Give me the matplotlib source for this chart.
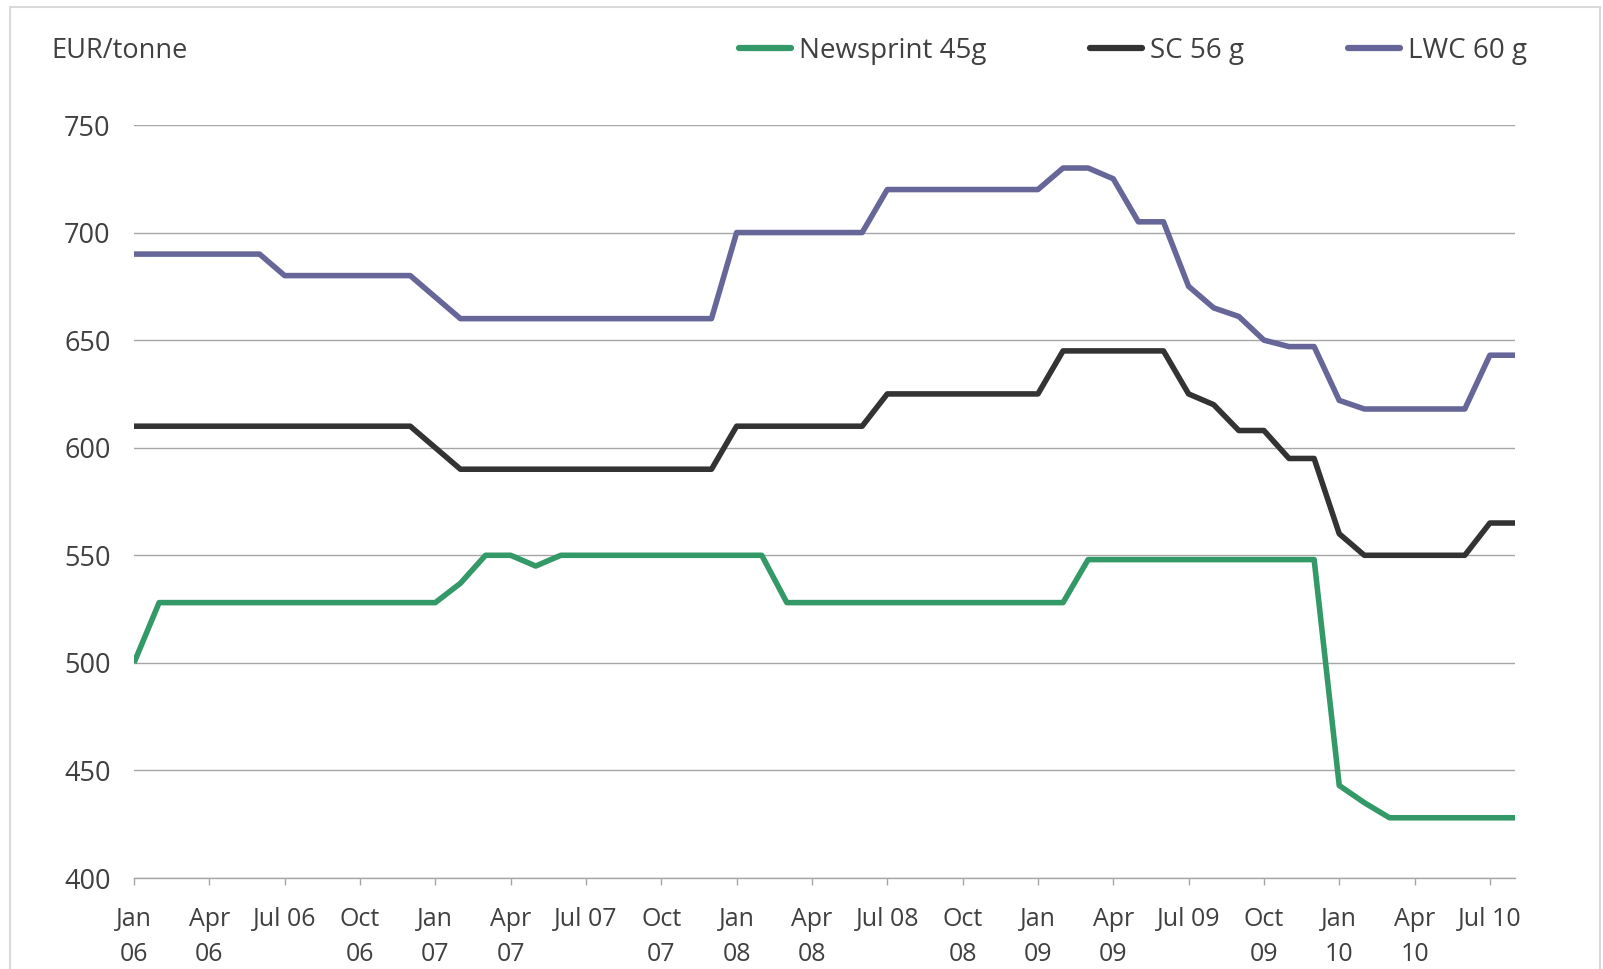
import matplotlib.pyplot as plt
from matplotlib.patches import Rectangle
import numpy as np

# monthly prices, Jan 2006 - Aug 2010 (EUR/tonne)
newsprint_45g = [500, 528, 528, 528, 528, 528, 528, 528, 528, 528, 528, 528,
                 528, 537, 550, 550, 545, 550, 550, 550, 550, 550, 550, 550,
                 550, 550, 528, 528, 528, 528, 528, 528, 528, 528, 528, 528,
                 528, 528, 548, 548, 548, 548, 548, 548, 548, 548, 548, 548,
                 443, 435, 428, 428, 428, 428, 428, 428]
sc_56g = [610, 610, 610, 610, 610, 610, 610, 610, 610, 610, 610, 610,
          600, 590, 590, 590, 590, 590, 590, 590, 590, 590, 590, 590,
          610, 610, 610, 610, 610, 610, 625, 625, 625, 625, 625, 625,
          625, 645, 645, 645, 645, 645, 625, 620, 608, 608, 595, 595,
          560, 550, 550, 550, 550, 550, 565, 565]
lwc_60g = [690, 690, 690, 690, 690, 690, 680, 680, 680, 680, 680, 680,
           670, 660, 660, 660, 660, 660, 660, 660, 660, 660, 660, 660,
           700, 700, 700, 700, 700, 700, 720, 720, 720, 720, 720, 720,
           720, 730, 730, 725, 705, 705, 675, 665, 661, 650, 647, 647,
           622, 618, 618, 618, 618, 618, 643, 643]

tick_labels = ["Jan\n06", "Apr\n06", "Jul 06", "Oct\n06",
               "Jan\n07", "Apr\n07", "Jul 07", "Oct\n07",
               "Jan\n08", "Apr\n08", "Jul 08", "Oct\n08",
               "Jan\n09", "Apr\n09", "Jul 09", "Oct\n09",
               "Jan\n10", "Apr\n10", "Jul 10"]

series = [("Newsprint 45g", newsprint_45g, "#339966"),
          ("SC 56 g", sc_56g, "#333333"),
          ("LWC 60 g", lwc_60g, "#666699")]

plt.rcParams['font.family'] = ['Open Sans', 'DejaVu Sans']
text_color = "#404040"
grid_color = "#a6a6a6"

W, H = 1603, 969
fig = plt.figure(figsize=(W / 100, H / 100), dpi=100)
ax = fig.add_axes([134 / W, 1 - 878 / H, (1515 - 134) / W, (878 - 125) / H])

months = np.arange(len(lwc_60g))
for name, values, color in series:
    ax.plot(months, values, color=color, lw=4.0, label=name,
            solid_joinstyle='round', solid_capstyle='butt', zorder=3)

ax.set_xlim(0, len(months) - 1)
ax.set_ylim(400, 750)
ax.set_yticks(np.arange(400, 751, 50))
ax.set_xticks(np.arange(0, len(months), 3))
ax.set_xticklabels(tick_labels, linespacing=1.5)

ax.yaxis.grid(True, color=grid_color, lw=1)
ax.set_axisbelow(True)
for side in ["left", "right", "top"]:
    ax.spines[side].set_visible(False)
ax.spines["bottom"].set_color(grid_color)
ax.spines["bottom"].set_linewidth(1)

ax.tick_params(axis='y', length=0, pad=17, labelsize=19.5, labelcolor=text_color)
ax.tick_params(axis='x', length=5, width=1, color=grid_color, pad=16,
               labelsize=18, labelcolor=text_color)

fig.text(51 / W, 1 - 51 / H, "EUR/tonne", fontsize=19.5, color=text_color,
         va='center', ha='left')

leg = ax.legend(ncol=3, loc='center right', bbox_to_anchor=(1527 / W, 1 - 51 / H),
                bbox_transform=fig.transFigure, frameon=False, fontsize=20,
                handlelength=1.85, handletextpad=0.3, columnspacing=3.75,
                borderpad=0, borderaxespad=0)
for txt in leg.get_texts():
    txt.set_color(text_color)
for line in leg.get_lines():
    line.set_solid_capstyle('round')
    line.set_linewidth(4.5)

# light frame around the chart area
fig.patches.append(Rectangle((10 / W, -0.01), (1600 - 10) / W, 1 - 7 / H + 0.01,
                             transform=fig.transFigure, fill=False,
                             edgecolor="#d9d9d9", lw=1.5))

fig.savefig("out.png", dpi=100)
